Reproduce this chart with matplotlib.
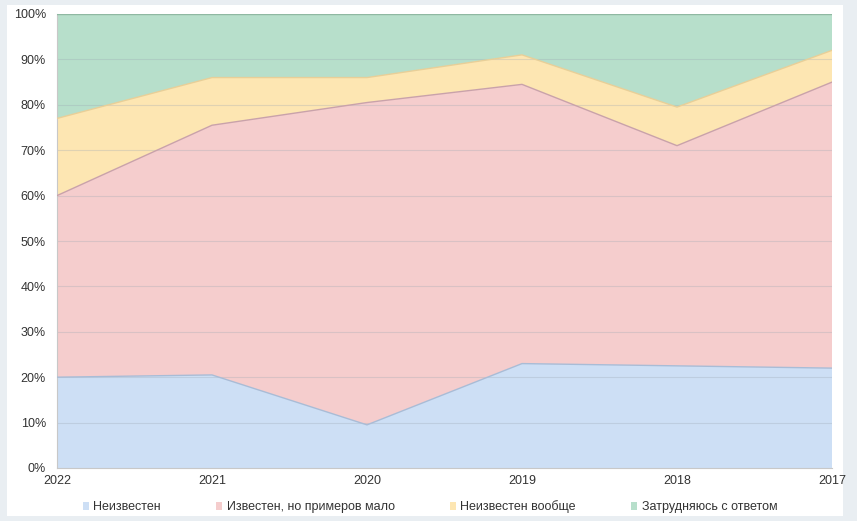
import matplotlib.pyplot as plt
from matplotlib.patches import Rectangle
from matplotlib.ticker import FuncFormatter, MultipleLocator

plt.rcParams['font.family'] = ['Liberation Sans', 'DejaVu Sans']

# данные (в процентах)
years = ['2022', '2021', '2020', '2019', '2018', '2017']
unknown = [20, 20.5, 9.5, 23, 22.5, 22]
known_few = [40, 55, 71, 61.5, 48.5, 63]
unknown_at_all = [17, 10.5, 5.5, 6.5, 8.5, 7]
hard_to_say = [23, 14, 14, 9, 20.5, 8]

labels = ['Неизвестен', 'Известен, но примеров мало',
          'Неизвестен вообще', 'Затрудняюсь с ответом']
colors = ['#cddff5', '#f5cdcd', '#fde6b2', '#b7dfcb']
edges = ['#a9bcd6', '#c9a2aa', '#e8cf98', '#8fb8a2']

x = list(range(len(years)))

fig = plt.figure(figsize=(8.57, 5.21), dpi=100)
fig.patch.set_facecolor('#e9eef2')
fig.patches.append(Rectangle((7 / 857, 5 / 521), 836 / 857, 511 / 521,
                             transform=fig.transFigure, facecolor='white',
                             edgecolor='none', zorder=-5))

ax = fig.add_axes([57 / 857, 1 - 468 / 521, 775 / 857, 454 / 521])
ax.set_facecolor('white')

series = [unknown, known_few, unknown_at_all, hard_to_say]
bottom = [0] * len(years)
for vals, c, e, lab in zip(series, colors, edges, labels):
    top = [b + v for b, v in zip(bottom, vals)]
    ax.fill_between(x, bottom, top, facecolor=c, edgecolor='none', label=lab, zorder=1)
    ax.plot(x, top, color=e, lw=1.0, zorder=3)
    bottom = top

for g in range(10, 100, 10):
    ax.axhline(g, color='#9aa6b2', lw=0.8, alpha=0.3, zorder=2)

ax.set_xlim(0, len(years) - 1)
ax.set_ylim(0, 100)
ax.set_xticks(x)
ax.set_xticklabels(years)
ax.yaxis.set_major_locator(MultipleLocator(10))
ax.yaxis.set_major_formatter(FuncFormatter(lambda v, p: f'{int(v)}%'))
ax.tick_params(length=0, labelsize=9, colors='#333333', pad=8)
ax.tick_params(axis='x', pad=5)
for s in ax.spines.values():
    s.set_visible(False)
ax.spines['bottom'].set_visible(True)
ax.spines['bottom'].set_color('#c8c8c8')
ax.spines['left'].set_visible(True)
ax.spines['left'].set_color('#c8c8c8')

handles = [Rectangle((0, 0), 1, 1, facecolor=c, edgecolor='none') for c in colors]
fig.legend(handles, labels, loc='center', bbox_to_anchor=(430 / 857, 1 - 507 / 521),
           ncol=4, frameon=False, fontsize=9, handlelength=0.5, handleheight=0.5,
           handletextpad=0.35, columnspacing=4.4, labelcolor='#333333')

fig.savefig('out.png', dpi=100, facecolor=fig.get_facecolor())
